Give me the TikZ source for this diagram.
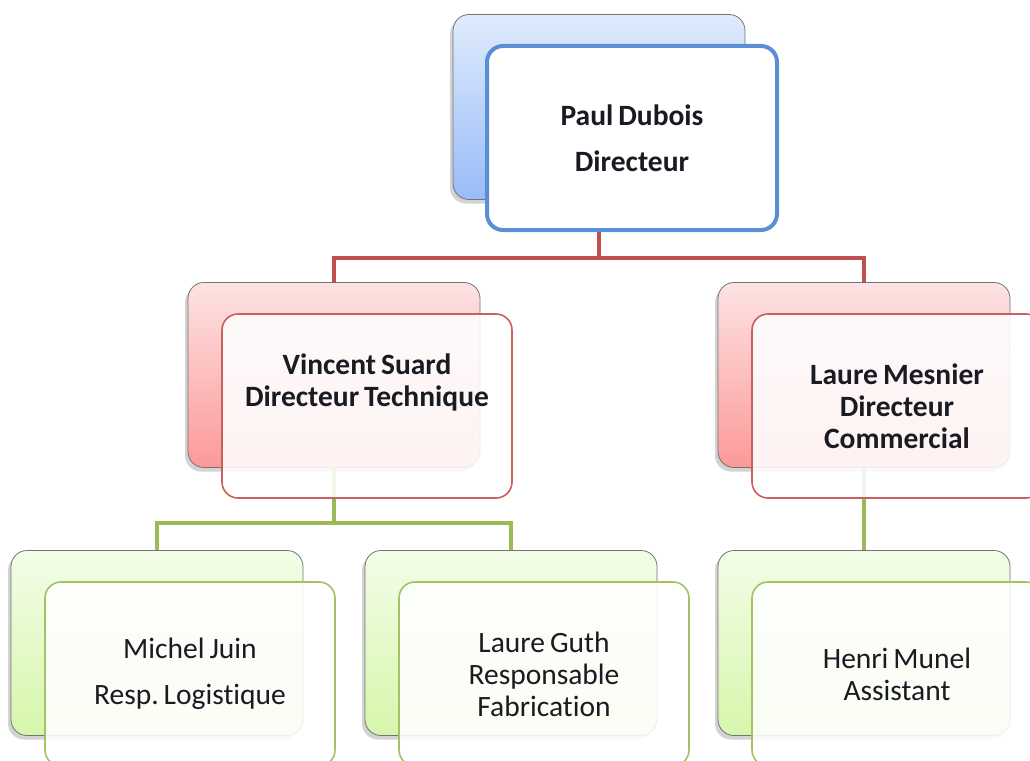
\documentclass[tikz,border=0pt]{standalone}
\usepackage{fontspec}
\setmainfont{Carlito}[Ligatures=NoCommon, WordSpace=0.75]
\frenchspacing
\usetikzlibrary{shadows}
\definecolor{bluebd}{HTML}{5A8ED5}
\definecolor{redbd}{HTML}{C9605C}
\definecolor{greenbd}{HTML}{A2C263}
\definecolor{redln}{HTML}{C0504D}
\definecolor{greenln}{HTML}{9BBB59}
\definecolor{txt}{HTML}{1A1A22}

\begin{document}
\begin{tikzpicture}[x=1pt,y=-1pt,
  back/.style={draw=black!55, line width=0.8pt, rounded corners=16pt,
    minimum width=292pt, minimum height=185pt,
    drop shadow={shadow xshift=-3pt,shadow yshift=-4pt,opacity=0.35}},
  front/.style={fill=white, fill opacity=0.88, text opacity=1, line width=1.6pt,
    rounded corners=16pt, minimum width=290pt, minimum height=184pt,
    align=center, text=txt, font=\fontsize{29.5}{32}\selectfont},
  link/.style={line width=4pt, line join=miter}]
\useasboundingbox (0,0) rectangle (1030,760);
\clip (0,0) rectangle (1030,760);
% back boxes
\node[back, top color={rgb,255:red,224;green,235;blue,252}, bottom color={rgb,255:red,152;green,188;blue,247}] (pdB) at (599,107) {};
\foreach \nm/\x/\y in {vsB/334/375, lmB/864/375}
  \node[back, top color={rgb,255:red,253;green,227;blue,227}, bottom color={rgb,255:red,252;green,153;blue,153}] (\nm) at (\x,\y) {};
\foreach \nm/\x/\y in {mjB/157/643, lgB/511/643, hmB/864/643}
  \node[back, top color={rgb,255:red,243;green,253;blue,232}, bottom color={rgb,255:red,214;green,246;blue,172}] (\nm) at (\x,\y) {};
% links
\draw[link, redln] (pdB.south) -- ++(0,58) -| (vsB.north);
\draw[link, redln] (pdB.south) -- ++(0,58) -| (lmB.north);
\draw[link, greenln] (vsB.south) -- ++(0,55) -| (mjB.north);
\draw[link, greenln] (vsB.south) -- ++(0,55) -| (lgB.north);
\draw[link, greenln] (lmB.south) -- (hmB.north);
% front boxes
\node[front, fill opacity=1, draw=bluebd, line width=4pt, font=\bfseries\fontsize{29.5}{46}\selectfont] (pdF) at (632,138) {Paul Dubois\\Directeur};
\node[front, draw=redbd,
  label={[yshift=24pt, align=center, text=txt, font=\bfseries\fontsize{29.5}{32}\selectfont]center:Vincent Suard\\Directeur Technique}] (vsF) at (367,406) {};
\node[front, draw=redbd, font=\bfseries\fontsize{29.5}{32}\selectfont] (lmF) at (897,406) {Laure Mesnier\\Directeur\\Commercial};
\node[front, draw=greenbd, font=\fontsize{29.5}{46}\selectfont] (mjF) at (190,674) {Michel Juin\\Resp. Logistique};
\node[front, draw=greenbd] (lgF) at (544,674) {Laure Guth\\Responsable\\Fabrication};
\node[front, draw=greenbd] (hmF) at (897,674) {Henri Munel\\Assistant};
\end{tikzpicture}
\end{document}
